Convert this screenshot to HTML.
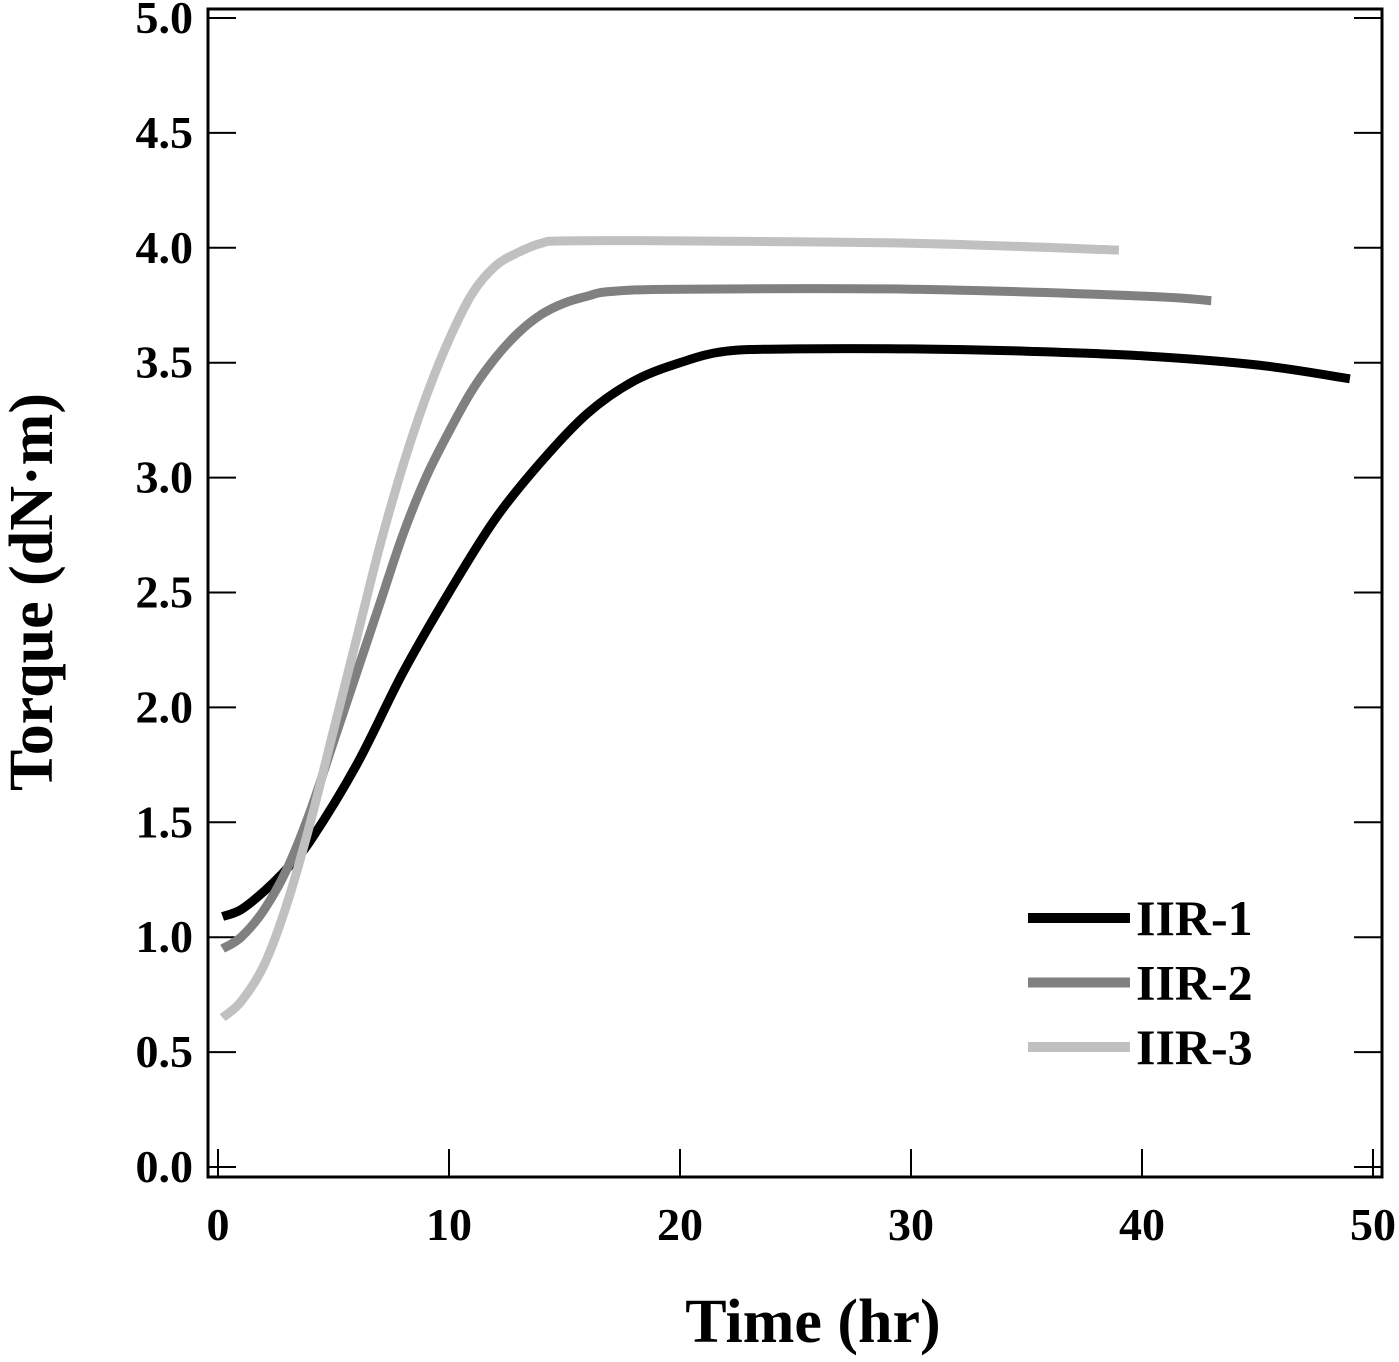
<!DOCTYPE html>
<html><head><meta charset="utf-8"><style>
html,body{margin:0;padding:0;background:#fff;}
svg text{font-family:"Liberation Serif",serif;font-weight:bold;fill:#000;}
</style></head><body>
<svg id="chart" width="1399" height="1357" xmlns="http://www.w3.org/2000/svg">
<rect x="208" y="9" width="1174" height="1168" fill="none" stroke="#000" stroke-width="3"/>
<g id="ticks"></g>
<g id="series"></g>
<text x="813" y="1342" font-size="62" text-anchor="middle">Time (hr)</text>
<text transform="translate(52,592) rotate(-90)" font-size="62" text-anchor="middle">Torque (dN·m)</text>
<g id="legend"></g>
</svg>
<script>
const xTicks=[0,10,20,30,40,50];
const yTicks=[0,0.5,1,1.5,2,2.5,3,3.5,4,4.5,5];
const seriesNames=["IIR-1","IIR-2","IIR-3"];
const x1=[0.2,1,2,3,4,6,8,10,12,14,16,18,20,22,25,30,35,40,45,49];
const y1=[1.09,1.12,1.2,1.3,1.42,1.75,2.15,2.5,2.82,3.07,3.28,3.42,3.5,3.55,3.56,3.56,3.55,3.53,3.49,3.43];
const x2=[0.2,1,2,3,4,5,6,7,8,9,10,11,12,13,14,15,16,17,20,30,40,43];
const y2=[0.95,1.0,1.12,1.3,1.55,1.85,2.15,2.45,2.75,3.0,3.2,3.38,3.52,3.63,3.71,3.76,3.79,3.81,3.82,3.82,3.79,3.77];
const x3=[0.2,1,2,3,4,5,6,7,8,9,10,11,12,13,14,15,20,30,39];
const y3=[0.65,0.72,0.88,1.15,1.5,1.9,2.3,2.7,3.05,3.35,3.6,3.8,3.92,3.98,4.02,4.03,4.03,4.02,3.99];
const colors=["#000","#808080","#c0c0c0"];
const NS="http://www.w3.org/2000/svg";
const X=v=>218+v*23.1;
const Y=v=>1167-v*229.8;
function mk(tag,attrs,parent){const e=document.createElementNS(NS,tag);for(const k in attrs)e.setAttribute(k,attrs[k]);parent.appendChild(e);return e;}
function smooth(pts){
  let d='M'+pts[0][0].toFixed(1)+','+pts[0][1].toFixed(1);
  for(let i=0;i<pts.length-1;i++){
    const p0=pts[Math.max(i-1,0)],p1=pts[i],p2=pts[i+1],p3=pts[Math.min(i+2,pts.length-1)];
    const c1=[p1[0]+(p2[0]-p0[0])/6,p1[1]+(p2[1]-p0[1])/6];
    const c2=[p2[0]-(p3[0]-p1[0])/6,p2[1]-(p3[1]-p1[1])/6];
    d+=' C'+c1.map(v=>v.toFixed(1)).join(',')+' '+c2.map(v=>v.toFixed(1)).join(',')+' '+p2[0].toFixed(1)+','+p2[1].toFixed(1);
  }
  return d;
}
const tg=document.getElementById('ticks');
xTicks.forEach(t=>{
  const l=mk('line',{x1:X(t),x2:X(t),y1:1177,y2:1149,stroke:'#000','stroke-width':2},tg);
  
  
  const tx=mk('text',{x:X(t),y:1240,'font-size':46,'text-anchor':'middle'},tg);
  tx.textContent=t;
  
  
});
yTicks.forEach(t=>{
  const l=mk('line',{x1:208,x2:236,y1:Y(t),y2:Y(t),stroke:'#000','stroke-width':2},tg);
  
  
  const r=mk('line',{x1:1354,x2:1382,y1:Y(t),y2:Y(t),stroke:'#000','stroke-width':2},tg);
  
  
  const tx=mk('text',{x:193,y:Y(t)+15,'font-size':46,'text-anchor':'end'},tg);
  tx.textContent=t.toFixed(1);
  
  
});
const sg=document.getElementById('series');
const data=[[x1,y1],[x2,y2],[x3,y3]];
data.forEach((d,i)=>{
  const pts=d[0].map((x,j)=>[X(x),Y(d[1][j])]);
  const pl=mk('path',{d:smooth(pts),fill:'none',stroke:colors[i],'stroke-width':9,'stroke-linejoin':'round'},sg);
  
  
});
const lg=document.getElementById('legend');
seriesNames.forEach((n,i)=>{
  const yy=918+i*64.5;
  const l=mk('line',{x1:1028,x2:1130,y1:yy,y2:yy,stroke:colors[i],'stroke-width':10},lg);
  
  
  const t=mk('text',{x:1136,y:yy+17,'font-size':50},lg);
  t.textContent=n;
  
  
});
</script>
</body></html>
